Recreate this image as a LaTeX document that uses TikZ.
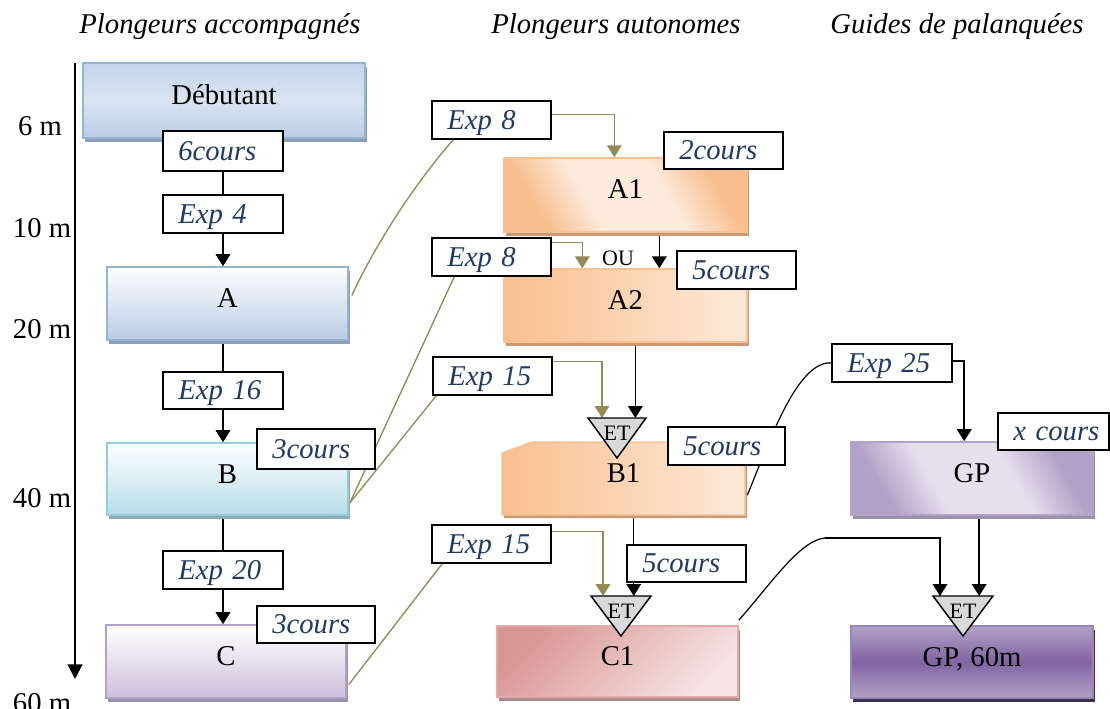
\documentclass[tikz,border=0pt]{standalone}
\usepackage{fontspec}
\setmainfont{Liberation Serif}
\usetikzlibrary{calc,shadows,arrows.meta}
\pgfdeclarelayer{bg}
\pgfsetlayers{bg,main}
\definecolor{lblblue}{HTML}{1F3A64}
\definecolor{olive}{HTML}{948A54}
\definecolor{bluB}{HTML}{95B3D7}
\definecolor{debT}{HTML}{C4D4EA}
\definecolor{debM}{HTML}{DAE4F1}
\definecolor{debB}{HTML}{B9CDE5}
\definecolor{aB}{HTML}{B9CDE5}
\definecolor{bluS}{HTML}{8E9DB3}
\definecolor{cyB}{HTML}{93CDDD}
\definecolor{bB}{HTML}{B7DEE8}
\definecolor{cyS}{HTML}{8FAAB2}
\definecolor{puB}{HTML}{B3A2C7}
\definecolor{cB}{HTML}{CCC0DA}
\definecolor{puS}{HTML}{9A90A8}
\definecolor{orB}{HTML}{FAC08F}
\definecolor{orD}{HTML}{F9BF8F}
\definecolor{orL}{HTML}{FDEADA}
\definecolor{orS}{HTML}{C99A78}
\definecolor{rdB}{HTML}{E3A8A8}
\definecolor{rdD}{HTML}{D99694}
\definecolor{rdL}{HTML}{F6E4E4}
\definecolor{rdS}{HTML}{A88A8A}
\definecolor{gpD}{HTML}{B3A2C7}
\definecolor{gpL}{HTML}{E6E0EE}
\definecolor{gpB}{HTML}{9A86B9}
\definecolor{gpT}{HTML}{B3A2C7}
\definecolor{gpM}{HTML}{8064A2}
\definecolor{gpS}{HTML}{3F3151}
\definecolor{triG}{HTML}{D9D9D9}
\pgfdeclarehorizontalshading{diagor}{100bp}{color(0bp)=(orD); color(27bp)=(orD); color(40bp)=(orL); color(60bp)=(orL); color(73bp)=(orD); color(100bp)=(orD)}
\pgfdeclarehorizontalshading{diagpu}{100bp}{color(0bp)=(gpD); color(27bp)=(gpD); color(40bp)=(gpL); color(60bp)=(gpL); color(73bp)=(gpD); color(100bp)=(gpD)}
\newcommand\bigf{\fontsize{21.5}{25}\selectfont}
\newcommand\smallf{\fontsize{16.5}{19}\selectfont}
\newcommand\mkbox[7]{%
  \pgfmathsetmacro\mkw{(#4-#2)*0.75}\pgfmathsetmacro\mkh{(#5-#3)*0.75}%
  \node[#6, minimum width=\mkw pt, minimum height=\mkh pt] (#1) at ({(#2+#4)/2},{(#3+#5)/2}) {#7};}
\newcommand\mklbl[6]{%
  \pgfmathsetmacro\mkw{(#4-#2)*0.75}\pgfmathsetmacro\mkh{(#5-#3)*0.75}%
  \node[lbl, text width=\mkw pt, minimum height=\mkh pt] (#1) at ({(#2+#4)/2},{(#3+#5)/2}) {\hspace*{11.5pt}#6};}
\tikzset{
  mainbox/.style={rectangle, inner sep=0pt, font=\bigf, text height=14pt, text depth=8pt},
  shad/.style={drop shadow={shadow xshift=1.8pt, shadow yshift=-3pt, fill=#1, opacity=1}},
  lbl/.style={rectangle, draw=black, line width=1.1pt, fill=white, inner xsep=0pt, inner ysep=0pt,
    align=left, font=\itshape\bigf, text=lblblue, text height=14pt, text depth=0pt},
  ttl/.style={font=\itshape\bigf, anchor=base, inner sep=0pt},
  dep/.style={font=\bigf, anchor=base, inner sep=0pt},
  ettxt/.style={font=\smallf, inner sep=0pt, text height=11pt, text depth=0pt},
  tri/.style={draw=black, line width=1.1pt, fill=triG, line join=miter},
  blk/.style={draw=black, line width=1.1pt, -{Triangle[width=11pt,length=9pt]}},
  blkl/.style={draw=black, line width=1.1pt},
  thinblk/.style={draw=black, line width=0.9pt},
  olv/.style={draw=olive, line width=1.1pt, -{Triangle[width=11pt,length=9pt]}},
  olvl/.style={draw=olive, line width=1pt},
}
\begin{document}
\begin{tikzpicture}[x=0.75pt,y=-0.75pt]
\useasboundingbox (0,0) rectangle (1110,709);
\clip (0,0) rectangle (1110,709);

% titles
\node[ttl] (tacc) at (220,34) {Plongeurs accompagnés};
\node[ttl] (taut) at (616,34) {Plongeurs autonomes};
\node[ttl] (tgui) at (957,34) {Guides de palanquées};

% depth axis
\coordinate (ax1) at (75,63);
\coordinate (ax2) at (75,679);
\draw[line width=1.5pt, -{Triangle[width=11pt,length=11pt]}] (ax1) -- (ax2);
\node[dep] (d6) at (40,136) {6 m};
\node[dep] (d10) at (42,238) {10 m};
\node[dep] (d20) at (42,339) {20 m};
\node[dep] (d40) at (42,507) {40 m};
\node[dep] (d60) at (42,712) {60 m};

% main boxes
\mkbox{deb}{83}{63}{365}{138}{mainbox, draw=bluB, line width=1.2pt, top color=debT, bottom color=debB, middle color=debM, shad=bluS}{Débutant}
\mkbox{A}{107}{267}{348}{340}{mainbox, draw=bluB, line width=1.2pt, top color=white, bottom color=aB, shad=bluS}{A}
\mkbox{B}{107}{443}{348}{515}{mainbox, draw=cyB, line width=1.2pt, top color=white, bottom color=bB, shad=cyS}{B}
\mkbox{C}{106}{625}{346}{698}{mainbox, draw=puB, line width=1.2pt, top color=white, bottom color=cB, shad=puS}{C}
\mkbox{A1}{504}{158}{747}{232}{mainbox, draw=orB, line width=1pt, shading=diagor, shading angle=30, shad=orS}{A1}
\mkbox{A2}{504}{269}{747}{342}{mainbox, draw=orB, line width=1pt, left color=orD, right color=orL, shad=orS}{A2}
% B1 with snipped corner
\fill[orS] (504,518) -- (504,456) -- (534,445) -- (747,445) -- (747,518) -- cycle;
\shade[left color=orD, right color=orL, draw=orB, line width=1pt] (502,515) -- (502,453) -- (532,442) -- (745,442) -- (745,515) -- cycle;
\mkbox{B1}{502}{442}{745}{515}{mainbox}{B1}
\mkbox{C1}{497}{626}{738}{697}{mainbox, draw=rdB, line width=1.2pt, left color=rdD, right color=rdL, shading angle=45, shad=rdS}{C1}
\mkbox{GP}{851}{442}{1093}{515}{mainbox, draw=puB, line width=1.2pt, shading=diagpu, shading angle=30, shad=puS}{GP}
\mkbox{GPs}{851}{626}{1093}{698}{mainbox, draw=gpB, line width=1.2pt, top color=gpT, bottom color=gpT, middle color=gpM, shad=gpS}{GP, 60m}

% OU text
\node[ettxt] (ou) at (618,258) {OU};

% ET triangles
\coordinate (t1) at (617,418);
\coordinate (t2) at (621,596);
\coordinate (t3) at (963,596);
\draw[tri] ($(t1)+(-29,0)$) -- ($(t1)+(29,0)$) -- ($(t1)+(0,40)$) -- cycle;
\node[ettxt] (et1) at ($(t1)+(0,15)$) {ET};
\draw[tri] ($(t2)+(-30,0)$) -- ($(t2)+(30,0)$) -- ($(t2)+(0,40)$) -- cycle;
\node[ettxt] (et2) at ($(t2)+(0,15)$) {ET};
\draw[tri] ($(t3)+(-30,0)$) -- ($(t3)+(30,0)$) -- ($(t3)+(0,40)$) -- cycle;
\node[ettxt] (et3) at ($(t3)+(0,15)$) {ET};

% labels
\mklbl{c6}{163}{131}{283}{171}{6cours}
\mklbl{e4}{163}{195}{283}{233}{Exp~4}
\mklbl{e16}{163}{372}{283}{409}{Exp~16}
\mklbl{c3b}{257}{429}{375}{469}{3cours}
\mklbl{e20}{163}{551}{283}{589}{Exp~20}
\mklbl{c3c}{257}{606}{375}{643}{3cours}
\mklbl{e8a}{432}{101}{551}{139}{Exp~8}
\mklbl{c2}{664}{132}{783}{169}{2cours}
\mklbl{e8b}{432}{238}{551}{276}{Exp~8}
\mklbl{c5a}{677}{251}{796}{289}{5cours}
\mklbl{e15a}{433}{357}{552}{395}{Exp~15}
\mklbl{c5b}{668}{427}{785}{465}{5cours}
\mklbl{e15b}{432}{525}{551}{563}{Exp~15}
\mklbl{c5c}{627}{545}{746}{582}{5cours}
\mklbl{e25}{832}{344}{952}{382}{Exp~25}
\mklbl{xc}{998}{413}{1109}{450}{x~cours}

% connectors
\begin{pgfonlayer}{bg}
\draw[blkl] (c6.south) -- (c6.south |- e4.north);
\draw[blk] (e4.south) -- (e4.south |- A.north);
\draw[blkl] (e16.north |- A.south) -- (e16.north);
\draw[blk] (e16.south) -- (e16.south |- B.north);
\draw[blkl] (e20.north |- B.south) -- (e20.north);
\draw[blk] (e20.south) -- (e20.south |- C.north);

\draw[olvl] ($(A.east)+(3,-8)$) .. controls (368,260) and (405,195) .. ($(e8a.south west)+(22,0)$);
\draw[olvl] ($(B.east)+(1,24)$) -- ($(e8b.south west)+(23,0)$);
\draw[olvl] ($(B.east)+(1,24)$) -- ($(e15a.south west)+(4,0)$);
\draw[olvl] ($(C.east)+(2,23)$) -- ($(e15b.south west)+(11,0)$);

\draw[olv] ($(e8a.north east)+(0,14)$) -| ($(A1.north west)+(111,0)$);
\draw[olv] ($(e8b.north east)+(0,5)$) -| ($(A2.north west)+(79,0)$);
\draw[olv] ($(e15a.north east)+(0,5)$) -| ($(t1)+(-15,0)$);
\draw[olv] ($(e15b.north east)+(0,7)$) -| ($(t2)+(-18,0)$);

\coordinate (pA1s) at ($(A1.south west)+(156,0)$);
\draw[blk] (pA1s) -- (pA1s |- A2.north);
\coordinate (pA2s) at ($(A2.south west)+(132,0)$);
\draw[blk] (pA2s) -- (pA2s |- t1);
\coordinate (pB1s) at ($(B1.south west)+(132,0)$);
\draw[blkl] (pB1s) -- (pB1s |- c5c.north);
\draw[blk] (pB1s |- c5c.south) -- (pB1s |- t2);

\draw[thinblk] ($(B1.south east)+(2,-20)$) .. controls (770,440) and (795,368) .. (827,363) -- (e25.west);
\draw[blk] ($(e25.east)+(0,-2)$) -| ($(GP.north west)+(114,0)$);
\coordinate (pGPs) at ($(GP.south west)+(129,0)$);
\draw[blk] (pGPs) -- (pGPs |- t3);
\coordinate (bend) at (825,538);
\draw[thinblk] ($(C1.north east)+(0,-5)$) .. controls (770,585) and (800,540) .. (bend);
\draw[blk] (bend) -| ($(t3)+(-23,0)$);
\end{pgfonlayer}
\end{tikzpicture}
\end{document}
